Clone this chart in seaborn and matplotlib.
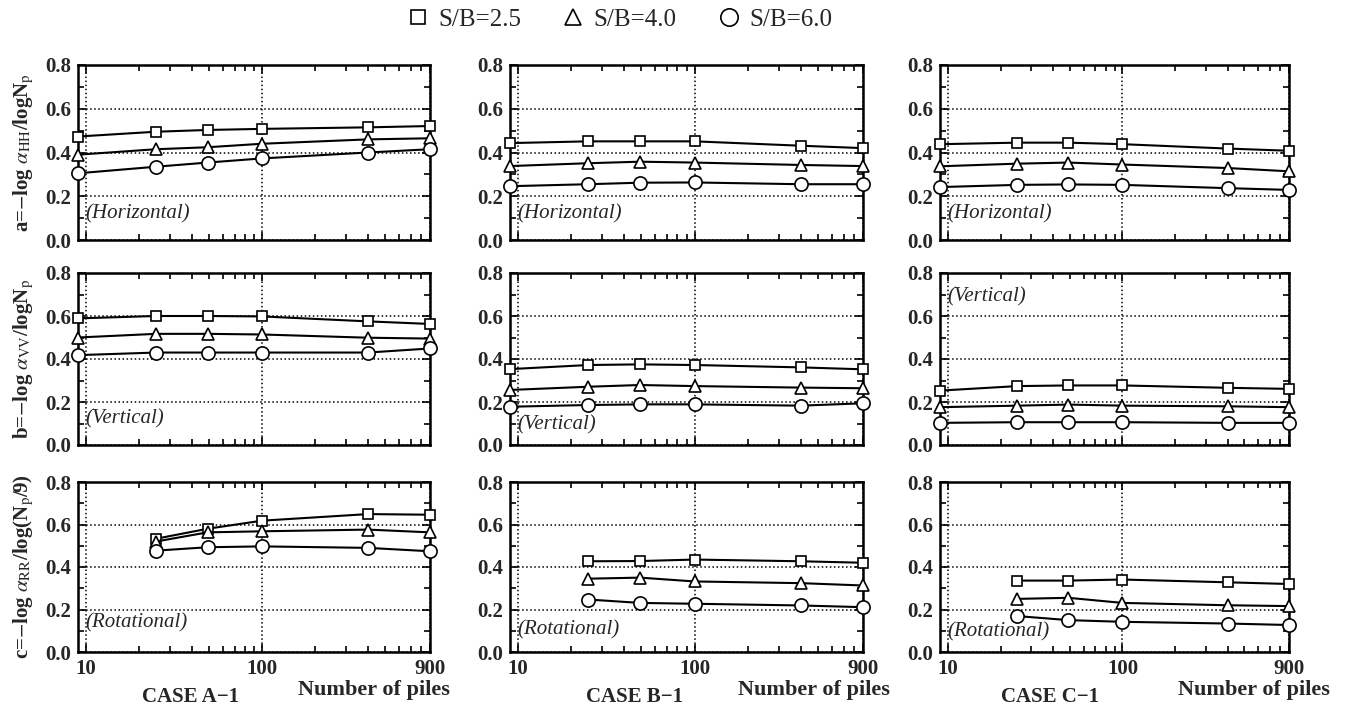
import numpy as np
import pandas as pd
import seaborn as sns
import matplotlib.pyplot as plt
from matplotlib.lines import Line2D

# ==========================================
# DATA
# ==========================================
N_ALL = [9, 25, 49, 100, 400, 900]
N_ROT = [25, 49, 100, 400, 900]
SB_LABELS = ["2.5", "4.0", "6.0"]
CASES = ["CASE A\u22121", "CASE B\u22121", "CASE C\u22121"]

# case A-1
A_HOR = {"2.5": [0.473, 0.495, 0.503, 0.508, 0.515, 0.521],
         "4.0": [0.39, 0.415, 0.424, 0.44, 0.46, 0.465],
         "6.0": [0.305, 0.335, 0.354, 0.373, 0.40, 0.415]}
A_VER = {"2.5": [0.589, 0.60, 0.60, 0.598, 0.575, 0.563],
         "4.0": [0.50, 0.517, 0.517, 0.514, 0.499, 0.495],
         "6.0": [0.418, 0.43, 0.43, 0.43, 0.43, 0.449]}
A_ROT = {"2.5": [0.533, 0.58, 0.618, 0.649, 0.646],
         "4.0": [0.52, 0.563, 0.568, 0.576, 0.563],
         "6.0": [0.477, 0.493, 0.497, 0.49, 0.474]}
# case B-1
B_HOR = {"2.5": [0.443, 0.451, 0.451, 0.451, 0.431, 0.42],
         "4.0": [0.338, 0.351, 0.358, 0.354, 0.343, 0.338],
         "6.0": [0.246, 0.255, 0.262, 0.263, 0.255, 0.255]}
B_VER = {"2.5": [0.353, 0.372, 0.375, 0.372, 0.361, 0.352],
         "4.0": [0.256, 0.271, 0.279, 0.274, 0.267, 0.264],
         "6.0": [0.178, 0.186, 0.189, 0.189, 0.183, 0.194]}
B_ROT = {"2.5": [0.427, 0.428, 0.435, 0.427, 0.42],
         "4.0": [0.345, 0.35, 0.332, 0.324, 0.313],
         "6.0": [0.247, 0.231, 0.227, 0.219, 0.211]}
# case C-1
C_HOR = {"2.5": [0.438, 0.445, 0.445, 0.438, 0.418, 0.408],
         "4.0": [0.337, 0.349, 0.354, 0.345, 0.329, 0.314],
         "6.0": [0.242, 0.252, 0.254, 0.252, 0.237, 0.229]}
C_VER = {"2.5": [0.253, 0.274, 0.277, 0.277, 0.266, 0.261],
         "4.0": [0.176, 0.183, 0.188, 0.183, 0.18, 0.176],
         "6.0": [0.103, 0.106, 0.106, 0.106, 0.103, 0.103]}
C_ROT = {"2.5": [0.336, 0.336, 0.341, 0.328, 0.32],
         "4.0": [0.25, 0.255, 0.231, 0.22, 0.216],
         "6.0": [0.169, 0.15, 0.142, 0.134, 0.127]}

PANELS = [[A_HOR, B_HOR, C_HOR],
          [A_VER, B_VER, C_VER],
          [A_ROT, B_ROT, C_ROT]]

Y_LABELS = [r"a=$-$log $\alpha_{\rm HH}$/logN$_{\rm p}$",
            r"b=$-$log $\alpha_{\rm VV}$/logN$_{\rm p}$",
            r"c=$-$log $\alpha_{\rm RR}$/log(N$_{\rm p}$/9)"]
MODES = ["(Horizontal)", "(Vertical)", "(Rotational)"]

# ==========================================
# STYLE
# ==========================================
MARKERS = {"2.5": "s", "4.0": "^", "6.0": "o"}
MSIZES = {"2.5": 7.5, "4.0": 8.5, "6.0": 9.5}

COL_LEFT = [78, 510, 940]
COL_W = [352, 353, 349]
ROW_TOP = [65, 273, 482]
ROW_H = [175, 172, 170]
FIG_W, FIG_H = 1345, 713

# (x, y) of the mode label in axes fraction, per row/col
MODE_POS = [[(0.02, 0.15)] * 3,
            [(0.02, 0.15), (0.02, 0.12), (0.02, 0.86)],
            [(0.02, 0.17), (0.02, 0.13), (0.02, 0.12)]]
NPILES_DX = [0.057, 0.077, 0.117]
CASE_X = [0.32, 0.354, 0.315]


def make_df(series, xs):
    rows = []
    for sb in SB_LABELS:
        for n, v in zip(xs, series[sb]):
            rows.append({"N": n, "val": v, "SB": sb})
    return pd.DataFrame(rows)


def main():
    sns.set_theme(style="ticks")
    plt.rcParams["font.family"] = ["Liberation Serif", "DejaVu Serif"]
    plt.rcParams["mathtext.fontset"] = "stix"
    plt.rcParams["axes.linewidth"] = 1.8

    fig = plt.figure(figsize=(FIG_W / 100, FIG_H / 100), dpi=100)

    for r in range(3):
        for c in range(3):
            left = COL_LEFT[c] / FIG_W
            bottom = 1 - (ROW_TOP[r] + ROW_H[r]) / FIG_H
            ax = fig.add_axes([left, bottom, COL_W[c] / FIG_W, ROW_H[r] / FIG_H])

            xs = N_ROT if r == 2 else N_ALL
            df = make_df(PANELS[r][c], xs)
            for sb in SB_LABELS:
                sns.lineplot(data=df[df["SB"] == sb], x="N", y="val", ax=ax,
                             color="black", linewidth=1.5,
                             marker=MARKERS[sb], markersize=MSIZES[sb],
                             markerfacecolor="white", markeredgecolor="black",
                             markeredgewidth=1.2, zorder=3, clip_on=False)

            ax.set_xscale("log")
            ax.set_xlim(9, 900)
            ax.set_ylim(0, 0.8)
            ax.set_xticks([10, 100, 900])
            ax.set_xticks(list(range(20, 100, 10)) + list(range(200, 900, 100)), minor=True)
            ax.set_yticks([0.0, 0.2, 0.4, 0.6, 0.8])
            ax.set_yticks([0.1, 0.3, 0.5, 0.7], minor=True)
            ax.set_yticklabels([f"{v:.1f}" for v in [0.0, 0.2, 0.4, 0.6, 0.8]],
                               fontweight="bold", fontsize=15)
            if r == 2:
                ax.set_xticklabels(["10", "100", "900"], fontweight="bold", fontsize=15)
            else:
                ax.set_xticklabels([])
            ax.tick_params(which="both", direction="in", top=True, right=True,
                           color="black", width=1.2)
            ax.tick_params(which="major", length=6, pad=5)
            ax.tick_params(which="minor", length=4)
            ax.grid(True, which="major", linestyle=":", color="black", linewidth=1.1)
            for s in ax.spines.values():
                s.set_color("black")

            ax.set_xlabel("")
            if c == 0:
                ax.set_ylabel(Y_LABELS[r], fontweight="bold", fontsize=15)
                ax.yaxis.set_label_coords(-0.12, 0.5)
            else:
                ax.set_ylabel("")

            mx, my = MODE_POS[r][c]
            ax.text(mx, my, MODES[r], transform=ax.transAxes, fontsize=15,
                    style="italic", va="center", ha="left")

            if r == 2:
                ax.text(1.0 + NPILES_DX[c], -0.225, "Number of piles",
                        transform=ax.transAxes, fontsize=16, fontweight="bold",
                        ha="right", va="center")
                ax.text(CASE_X[c], -0.265, CASES[c], transform=ax.transAxes,
                        fontsize=15, fontweight="bold", ha="center", va="center")

    handles = [Line2D([], [], linestyle="none", marker=MARKERS[sb],
                      markersize=MSIZES[sb] + 3, markerfacecolor="white",
                      markeredgecolor="black", markeredgewidth=1.2)
               for sb in SB_LABELS]
    fig.legend(handles, [f"S/B={sb}" for sb in SB_LABELS], loc="center",
               bbox_to_anchor=(0.46, 0.972), ncol=3, frameon=False,
               fontsize=18, handlelength=1.0, handletextpad=0.3,
               columnspacing=1.6)

    fig.savefig("out.png", dpi=100)


if __name__ == "__main__":
    main()
